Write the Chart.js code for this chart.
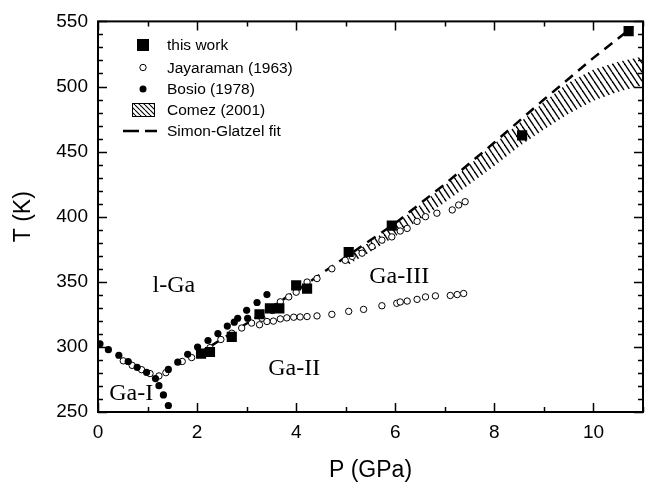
<!DOCTYPE html>
<html>
<head>
<meta charset="utf-8">
<script src="https://cdn.jsdelivr.net/npm/chart.js@4.4.0/dist/chart.umd.min.js"></script>
<style>
  html, body { margin: 0; padding: 0; background: #fff; }
  canvas { display: block; }
</style>
</head>
<body>
<canvas id="meltChart" width="653" height="492"></canvas>
<script>
// this work (squares)
const workP = [2.08, 2.26, 2.70, 3.26, 3.47, 3.66, 4.00, 4.22, 5.06, 5.93, 8.56, 10.71];
const workT = [294.8, 296.1, 307.7, 325.1, 329.6, 329.6, 347.2, 344.7, 372.9, 393.1, 462.4, 542.5];

// Bosio (1978), filled circles
const bosioP = [0.04, 0.21, 0.42, 0.61, 0.79, 0.98, 1.16, 1.23, 1.32, 1.42, 1.42, 1.61, 1.81, 2.01, 2.22, 2.42, 2.61, 2.75, 2.82, 3.00, 3.02, 3.21, 3.41];
const bosioT = [302.4, 297.9, 293.6, 288.8, 284.3, 280.5, 275.7, 270.2, 263.1, 255.0, 282.7, 288.3, 294.3, 299.9, 304.9, 310.2, 316.0, 319.0, 322.0, 328.1, 322.0, 334.1, 340.2];

// Jayaraman (1963), open circles: melting curve
const jayaMeltP = [0.51, 0.69, 0.88, 1.05, 1.23, 1.37, 1.70, 1.89, 2.08, 2.26, 2.48, 2.70, 2.90, 3.10, 3.31, 3.52, 3.68, 3.85, 4.00, 4.22, 4.42, 4.72, 4.99, 5.13, 5.33, 5.53, 5.73, 5.93, 6.10, 6.24, 6.44, 6.61, 6.84, 7.15, 7.28, 7.41];
const jayaMeltT = [289.3, 285.8, 282.5, 279.5, 277.7, 280.2, 288.8, 291.8, 295.6, 299.4, 305.7, 310.5, 314.5, 318.3, 322.0, 328.0, 334.6, 338.4, 342.0, 349.8, 352.5, 360.0, 366.5, 369.5, 372.0, 377.0, 382.0, 384.5, 389.0, 391.0, 396.4, 400.0, 402.7, 405.2, 409.0, 411.5];
// Jayaraman (1963): Ga-II / Ga-III boundary
const jayaSolidP = [3.26, 3.41, 3.54, 3.68, 3.81, 3.95, 4.08, 4.22, 4.42, 4.72, 5.06, 5.36, 5.73, 6.03, 6.10, 6.24, 6.44, 6.61, 6.81, 7.11, 7.25, 7.38];
const jayaSolidT = [317.0, 319.5, 319.8, 321.5, 322.3, 322.8, 323.0, 323.3, 323.8, 325.0, 327.3, 328.8, 331.6, 333.5, 334.5, 335.2, 336.5, 338.4, 339.2, 339.5, 340.2, 341.0];

// Comez (2001) band
const bandP = [5.0, 5.5, 6.0, 6.5, 7.0, 7.5, 8.0, 8.5, 9.0, 9.5, 10.0, 10.5, 11.0];
const bandLow = [362, 373, 385, 398, 411, 425, 439, 454, 467, 479, 489, 496, 501];
const bandHigh = [368, 381, 394, 409, 424, 440, 456, 472, 488, 503, 513, 519, 523];

// Simon-Glatzel fit (dashed)
const fitP = [2.0, 3.0, 4.0, 5.0, 6.0, 7.0, 8.0, 9.0, 10.0, 10.8];
const fitT = [294, 318, 343, 369, 395, 425, 457, 490, 522, 546];

const xMajor = [0, 2, 4, 6, 8, 10];
const yMajor = [250, 300, 350, 400, 450, 500, 550];

const legendLabels = ['this work', 'Jayaraman (1963)', 'Bosio (1978)', 'Comez (2001)', 'Simon-Glatzel fit'];
const phaseLabels = [
  { text: 'l-Ga', p: 1.53, t: 347 },
  { text: 'Ga-I', p: 0.67, t: 264 },
  { text: 'Ga-II', p: 3.96, t: 283 },
  { text: 'Ga-III', p: 6.08, t: 354 }
];

const toPts = (xs, ys) => xs.map((x, i) => ({ x, y: ys[i] }));

const canvas = document.getElementById('meltChart');
const ctx = canvas.getContext('2d');

function makeHatch(w, h, lw) {
  const c = document.createElement('canvas');
  c.width = w; c.height = h;
  const g = c.getContext('2d');
  g.strokeStyle = '#000';
  g.lineWidth = lw;
  [-w, 0, w].forEach(dx => {
    g.beginPath();
    g.moveTo(dx, 0);
    g.lineTo(dx + w, h);
    g.stroke();
  });
  return ctx.createPattern(c, 'repeat');
}

const bandHatch = makeHatch(6, 9, 1.4);
const legendHatch = makeHatch(5, 5, 1.1);

// frame + inward ticks on all four sides
const framePlugin = {
  id: 'frame',
  afterDatasetsDraw(chart) {
    const { ctx, chartArea: a, scales: { x, y } } = chart;
    ctx.save();
    ctx.strokeStyle = '#000';
    ctx.lineWidth = 1.5;
    ctx.beginPath();
    for (let v = 0; v <= 11; v++) {
      const px = Math.round(x.getPixelForValue(v)) + 0.5;
      const len = xMajor.includes(v) ? 9 : 5;
      ctx.moveTo(px, a.bottom); ctx.lineTo(px, a.bottom - len);
      ctx.moveTo(px, a.top); ctx.lineTo(px, a.top + len);
    }
    for (let v = 250; v <= 550; v += 10) {
      const py = Math.round(y.getPixelForValue(v)) + 0.5;
      const len = yMajor.includes(v) ? 9 : 5;
      ctx.moveTo(a.left, py); ctx.lineTo(a.left + len, py);
      ctx.moveTo(a.right, py); ctx.lineTo(a.right - len, py);
    }
    ctx.stroke();
    ctx.lineWidth = 2;
    ctx.strokeRect(a.left, a.top, a.right - a.left, a.bottom - a.top);
    ctx.restore();
  }
};

// legend inside plot and phase names
const notesPlugin = {
  id: 'notes',
  afterDraw(chart) {
    const { ctx, scales: { x, y } } = chart;
    ctx.save();

    const symX = 143, textX = 167;
    const rows = [45, 67.5, 89, 110, 131];

    ctx.fillStyle = '#000';
    ctx.fillRect(symX - 6, rows[0] - 6, 12, 12);

    ctx.beginPath();
    ctx.arc(symX, rows[1], 3.2, 0, Math.PI * 2);
    ctx.fillStyle = '#fff';
    ctx.fill();
    ctx.lineWidth = 1;
    ctx.strokeStyle = '#000';
    ctx.stroke();

    ctx.beginPath();
    ctx.arc(symX, rows[2], 3.5, 0, Math.PI * 2);
    ctx.fillStyle = '#000';
    ctx.fill();

    ctx.fillStyle = legendHatch;
    ctx.fillRect(132, rows[3] - 7, 23, 14);
    ctx.strokeRect(132.5, rows[3] - 6.5, 22, 13);

    ctx.beginPath();
    ctx.setLineDash([16, 6]);
    ctx.lineWidth = 2.5;
    ctx.moveTo(123, rows[4]);
    ctx.lineTo(157, rows[4]);
    ctx.stroke();
    ctx.setLineDash([]);

    ctx.fillStyle = '#000';
    ctx.font = '15.5px "Liberation Sans", Arial, sans-serif';
    ctx.textAlign = 'left';
    ctx.textBaseline = 'middle';
    legendLabels.forEach((t, i) => ctx.fillText(t, textX, rows[i] + 1));

    ctx.font = '24px "Liberation Serif", "Times New Roman", serif';
    ctx.textAlign = 'center';
    phaseLabels.forEach(l => {
      ctx.fillText(l.text, x.getPixelForValue(l.p), y.getPixelForValue(l.t));
    });
    ctx.restore();
  }
};

const tickFont = { family: '"Liberation Sans", Arial, sans-serif', size: 19 };
const titleFont = { family: '"Liberation Sans", Arial, sans-serif', size: 23 };

new Chart(ctx, {
  type: 'scatter',
  data: {
    datasets: [
      {
        label: 'this work',
        data: toPts(workP, workT),
        pointStyle: 'rect',
        pointRadius: 7.2,
        backgroundColor: '#000',
        borderColor: '#000',
        borderWidth: 0
      },
      {
        label: 'Bosio (1978)',
        data: toPts(bosioP, bosioT),
        pointRadius: 3.6,
        backgroundColor: '#000',
        borderColor: '#000',
        borderWidth: 0
      },
      {
        label: 'Jayaraman (1963)',
        data: toPts(jayaMeltP, jayaMeltT).concat(toPts(jayaSolidP, jayaSolidT)),
        pointRadius: 3.2,
        backgroundColor: '#fff',
        borderColor: '#000',
        borderWidth: 1
      },
      {
        label: 'Simon-Glatzel fit',
        data: toPts(fitP, fitT),
        showLine: true,
        pointRadius: 0,
        borderColor: '#000',
        borderWidth: 2.5,
        borderDash: [10, 7],
        fill: false
      },
      {
        label: 'Comez low',
        data: toPts(bandP, bandLow),
        showLine: true,
        pointRadius: 0,
        borderColor: 'rgba(0,0,0,0)',
        borderWidth: 0,
        fill: false
      },
      {
        label: 'Comez (2001)',
        data: toPts(bandP, bandHigh),
        showLine: true,
        pointRadius: 0,
        borderColor: 'rgba(0,0,0,0)',
        borderWidth: 0,
        backgroundColor: bandHatch,
        fill: '-1'
      }
    ]
  },
  options: {
    responsive: false,
    animation: false,
    devicePixelRatio: 1,
    layout: { padding: { left: 0, right: 10, top: 16, bottom: 0 } },
    plugins: {
      legend: { display: false },
      tooltip: { enabled: false }
    },
    scales: {
      x: {
        type: 'linear',
        min: 0,
        max: 11,
        grid: { display: false, drawTicks: false },
        border: { display: false },
        ticks: {
          stepSize: 2,
          padding: 9,
          color: '#000',
          font: tickFont,
          callback: v => (xMajor.includes(v) ? v : '')
        },
        title: {
          display: true,
          text: 'P (GPa)',
          color: '#000',
          font: titleFont,
          padding: { top: 0, bottom: 8 }
        },
        afterFit: s => { s.height = 80; }
      },
      y: {
        type: 'linear',
        min: 250,
        max: 550,
        grid: { display: false, drawTicks: false },
        border: { display: false },
        ticks: {
          stepSize: 50,
          padding: 10,
          color: '#000',
          font: tickFont
        },
        title: {
          display: true,
          text: 'T (K)',
          color: '#000',
          font: titleFont,
          padding: { top: 10, bottom: 0 }
        },
        afterFit: s => { s.width = 98; }
      }
    }
  },
  plugins: [framePlugin, notesPlugin]
});
</script>
</body>
</html>
